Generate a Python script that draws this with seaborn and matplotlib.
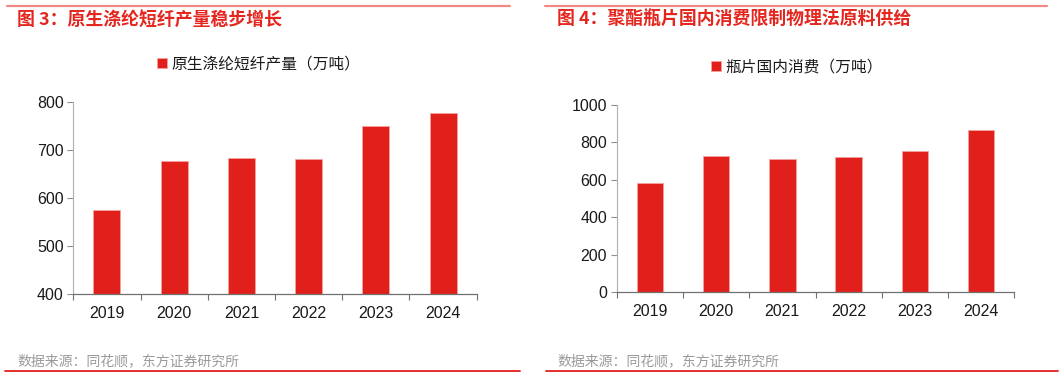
import matplotlib
matplotlib.use("Agg")
import matplotlib.pyplot as plt
import seaborn as sns
import pandas as pd
from matplotlib.lines import Line2D
from matplotlib.ticker import FixedLocator

sns.set_theme(style="white")
plt.rcParams['font.family'] = ['Liberation Sans', 'Noto Sans CJK SC', 'DejaVu Sans']

years = ["2019", "2020", "2021", "2022", "2023", "2024"]
fiber_output = [576, 677, 683, 681, 749, 777]
bottle_consumption = [583, 726, 710, 719, 754, 865]

title_left = "图 3：原生涤纶短纤产量稳步增长"
title_right = "图 4：聚酯瓶片国内消费限制物理法原料供给"
legend_left = "原生涤纶短纤产量（万吨）"
legend_right = "瓶片国内消费（万吨）"
source = "数据来源：同花顺，东方证券研究所"

left_yticks = [400, 500, 600, 700, 800]
right_yticks = [0, 200, 400, 600, 800, 1000]

W, H = 1061, 378
fig = plt.figure(figsize=(W / 100, H / 100), dpi=100)

BAR = "#E2201B"
CJK = ['Noto Sans CJK SC', 'DejaVu Sans']


def px_axes(x0, x1, y0, y1):
    return fig.add_axes([x0 / W, (H - y1) / H, (x1 - x0) / W, (y1 - y0) / H])


def draw(ax, values, label, yticks, leg_y, leg_x):
    df = pd.DataFrame({"year": years, "value": values})
    sns.barplot(data=df, x="year", y="value", ax=ax, color=BAR, width=0.4,
                saturation=1, edgecolor="#f3a3a0", linewidth=0.6, label=label)
    ax.set_xlim(-0.5, len(years) - 0.5)
    ax.set_ylim(yticks[0], yticks[-1])
    ax.set_yticks(yticks)
    ax.set_xlabel("")
    ax.set_ylabel("")
    for s in ["top", "right"]:
        ax.spines[s].set_visible(False)
    ax.spines["left"].set_color("#b0b0b0")
    ax.spines["left"].set_linewidth(0.8)
    ax.spines["bottom"].set_color("#707070")
    ax.spines["bottom"].set_linewidth(0.9)
    ax.tick_params(axis="y", which="major", length=4, width=0.8, color="#909090",
                   labelsize=11.5, labelcolor="#1a1a1a", direction="out", left=True, pad=3)
    ax.tick_params(axis="x", which="major", length=0, labelsize=11.5, labelcolor="#1a1a1a", pad=9)
    ax.xaxis.set_minor_locator(FixedLocator([i - 0.5 for i in range(len(years) + 1)]))
    ax.tick_params(axis="x", which="minor", length=4, width=0.8, color="#707070",
                   direction="out", bottom=True)
    ax.grid(False)
    leg = ax.legend(loc="center", bbox_to_anchor=(leg_x / W, (H - leg_y) / H),
                    bbox_transform=fig.transFigure, frameon=False,
                    handlelength=0.6, handleheight=0.6, handletextpad=0.3,
                    prop={'family': CJK, 'size': 11.3})
    for t in leg.get_texts():
        t.set_color("#1a1a1a")


axL = px_axes(73.3, 476.7, 102, 294)
draw(axL, fiber_output, legend_left, left_yticks, 64, 259)
axR = px_axes(616.7, 1014.3, 104.7, 292)
draw(axR, bottle_consumption, legend_right, right_yticks, 67, 797)

# header lines and titles
for x0, x1 in [(7, 510), (545, 1047)]:
    fig.add_artist(Line2D([x0 / W, x1 / W], [(H - 6) / H] * 2, color="#f08a84",
                          linewidth=1.6, transform=fig.transFigure))
fig.text(17 / W, (H - 20) / H, title_left, color="#E4261F", fontsize=12.9,
         fontweight="bold", family=CJK, va="center", ha="left")
fig.text(557 / W, (H - 20) / H, title_right, color="#E4261F", fontsize=12.9,
         fontweight="bold", family=CJK, va="center", ha="left")

# footer
fig.text(17 / W, (H - 361) / H, source, color="#9a9a9a", fontsize=10,
         family=CJK, va="center", ha="left")
fig.text(557 / W, (H - 361) / H, source, color="#9a9a9a", fontsize=10,
         family=CJK, va="center", ha="left")
for x0, x1 in [(5, 520), (546, 1058)]:
    fig.add_artist(Line2D([x0 / W, x1 / W], [(H - 371) / H] * 2, color="#E2201B",
                          linewidth=1.3, transform=fig.transFigure))

fig.savefig("out.png", dpi=100)
